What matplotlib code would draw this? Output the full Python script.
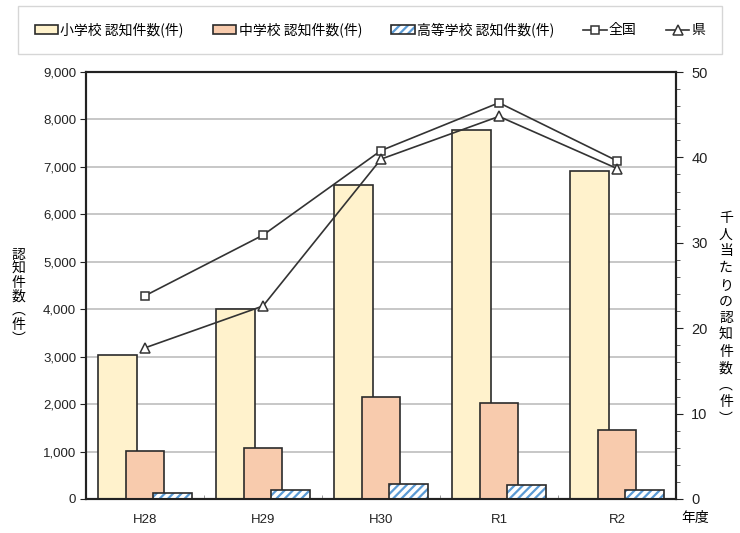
import matplotlib
matplotlib.use("Agg")
import matplotlib.pyplot as plt
import numpy as np
from matplotlib.legend_handler import HandlerTuple

plt.rcParams['font.family'] = ['Liberation Sans', 'Noto Sans CJK JP', 'DejaVu Sans']
plt.rcParams['hatch.linewidth'] = 1.6

categories = ['H28', 'H29', 'H30', 'R1', 'R2']
elementary = [3030, 4010, 6620, 7770, 6910]
junior_high = [1010, 1070, 2160, 2020, 1458]
high_school = [130, 190, 320, 300, 196]
national_rate = [23.8, 30.9, 40.8, 46.4, 39.6]
prefecture_rate = [17.7, 22.6, 39.8, 44.8, 38.7]

labels = ['小学校 認知件数(件)', '中学校 認知件数(件)', '高等学校 認知件数(件)', '全国', '県']

fig = plt.figure(figsize=(7.4, 5.33), dpi=100)
ax = fig.add_axes([0.1162, 0.0638, 0.7973, 0.8011])
ax2 = ax.twinx()

x = np.arange(len(categories))
w = 0.33
off = 0.233
edge = '#2b2b2b'

b1 = ax.bar(x - off, elementary, w, color='#FFF2CC', edgecolor=edge, linewidth=1.2, zorder=2)
b2 = ax.bar(x, junior_high, w, color='#F8CBAD', edgecolor=edge, linewidth=1.2, zorder=3)
b3h = ax.bar(x + off, high_school, w, color='white', edgecolor='#5B9BD5', hatch='////', linewidth=0, zorder=4)
b3e = ax.bar(x + off, high_school, w, color='none', edgecolor=edge, linewidth=1.2, zorder=5)

ax.set_xlim(-0.5, len(categories) - 0.5)
ax.set_ylim(0, 9000)
ax.set_yticks(np.arange(0, 9001, 1000))
ax.set_yticklabels([f'{v:,}' for v in range(0, 9001, 1000)])
ax.yaxis.grid(True, color='#bdbdbd', linewidth=1.2)
ax.set_axisbelow(True)
ax.set_xticks(x)
ax.set_xticklabels(categories)
ax.set_xticks(np.arange(0.5, len(categories) - 0.5, 1), minor=True)
ax.tick_params(axis='x', which='major', length=0, labelsize=9.5, pad=11, colors='#222222')
ax.tick_params(axis='x', which='minor', direction='in', length=3, color='#888888')
ax.tick_params(axis='y', direction='out', length=4, labelsize=9.5, colors='#222222', pad=3)

for a in (ax, ax2):
    for s in ['left', 'top', 'right', 'bottom']:
        a.spines[s].set_color('#222222')
        a.spines[s].set_linewidth(1.5)

lc = '#333333'
l1, = ax2.plot(x, national_rate, color=lc, linewidth=1.2, marker='s', markersize=6,
               markerfacecolor='white', markeredgecolor=lc, markeredgewidth=1.1, zorder=6)
l2, = ax2.plot(x, prefecture_rate, color=lc, linewidth=1.2, marker='^', markersize=7,
               markerfacecolor='white', markeredgecolor=lc, markeredgewidth=1.1, zorder=6)
ax2.set_ylim(0, 50)
ax2.set_yticks(np.arange(0, 51, 10))
ax2.set_yticks(np.arange(0, 51, 2), minor=True)
ax2.tick_params(axis='y', which='major', direction='out', length=5, labelsize=10.5, colors='#222222', pad=6)
ax2.tick_params(axis='y', which='minor', direction='out', length=3, color='#444444')

fig.text(0.025, 0.443, '認\n知\n件\n数\n︵\n件\n︶', ha='center', va='center', fontsize=10,
         linespacing=1.0, family=['Noto Sans CJK JP'])
fig.text(0.981, 0.403, '千\n人\n当\nた\nり\nの\n認\n知\n件\n数\n︵\n件\n︶', ha='center', va='center',
         fontsize=10, linespacing=1.25, family=['Noto Sans CJK JP'])
fig.text(0.94, 0.028, '年度', ha='center', va='center', fontsize=10, family=['Noto Sans CJK JP'])

handles = [b1[0], b2[0], (b3h[0], b3e[0]), l1, l2]
leg = fig.legend(handles, labels, loc='center', bbox_to_anchor=(0.5, 0.944), ncol=5,
                 frameon=True, fancybox=False, edgecolor='#cccccc',
                 handlelength=1.7, handleheight=0.6, handletextpad=0.15, columnspacing=2.1,
                 borderpad=1.2, handler_map={tuple: HandlerTuple(ndivide=1, pad=0)},
                 prop={'family': ['Noto Sans CJK JP'], 'size': 10})
leg.get_frame().set_linewidth(1.0)

fig.savefig('out.png', dpi=100)
